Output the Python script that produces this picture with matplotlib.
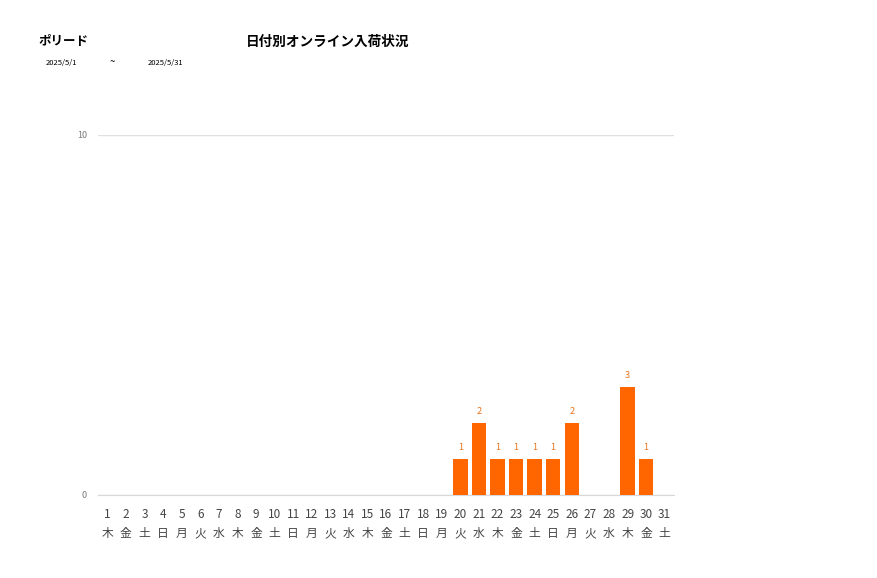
import matplotlib
matplotlib.use("Agg")
import matplotlib.pyplot as plt

plt.rcParams['font.family'] = ['Noto Sans CJK JP', 'DejaVu Sans']

# daily arrivals for May 2025
days = list(range(1, 32))
weekdays = ["木", "金", "土", "日", "月", "火", "水"] * 5
weekdays = weekdays[:31]
counts = [0] * 19 + [1, 2, 1, 1, 1, 1, 2, 0, 0, 3, 1, 0]

bar_color = "#ff6600"

fig = plt.figure(figsize=(8.77, 5.78), dpi=100)
ax = fig.add_axes([98 / 877, 1 - 495 / 578, 576 / 877, 360 / 578])

x = list(range(len(days)))
ax.bar(x, counts, width=0.78, color=bar_color, zorder=3)
for xi, c in zip(x, counts):
    if c > 0:
        ax.text(xi, c + 0.2, str(c), ha="center", va="bottom",
                fontsize=6.5, color="#e8731a")

ax.set_xlim(-0.5, len(days) - 0.5)
ax.set_ylim(0, 10)
ax.set_yticks([0, 10])
ax.set_yticklabels(["0", "10"], fontsize=6.5, color="#777777")
ax.set_xticks(x)
ax.set_xticklabels([f"{d}\n{w}" for d, w in zip(days, weekdays)],
                   fontsize=8.5, color="#444444", linespacing=1.65)
ax.tick_params(axis="both", length=0, pad=8)
ax.tick_params(axis="x", pad=9)
ax.grid(axis="y", color="#e0e0e0", linewidth=1, zorder=0)
for s in ["top", "right", "left"]:
    ax.spines[s].set_visible(False)
ax.spines["bottom"].set_color("#d8d8d8")

fig.text(38 / 877, 1 - 42 / 578, "ポリード", fontsize=9, fontweight="bold",
         va="center", ha="left")
fig.text(328 / 877, 1 - 42 / 578, "日付別オンライン入荷状況", fontsize=9.8,
         fontweight="bold", va="center", ha="center")
fig.text(46 / 877, 1 - 63 / 578, "2025/5/1", fontsize=5.5, va="center")
fig.text(112 / 877, 1 - 62 / 578, "~", fontsize=7, va="center", ha="center")
fig.text(148 / 877, 1 - 63 / 578, "2025/5/31", fontsize=5.5, va="center")

fig.savefig("out.png", dpi=100)
